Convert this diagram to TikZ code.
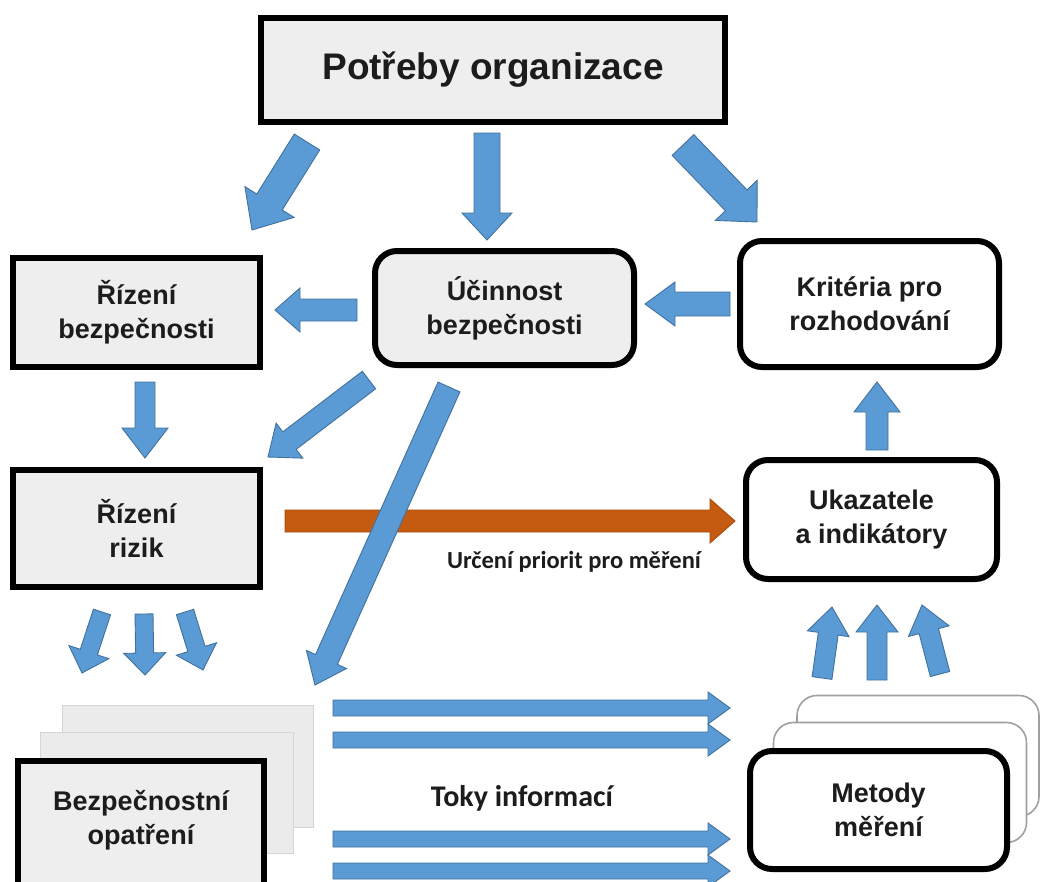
\documentclass[tikz,border=0pt]{standalone}
\usepackage{fontspec}
\setmainfont{Liberation Sans}
\newfontfamily\labelfont{Carlito}
\usetikzlibrary{calc}

\definecolor{arrowblue}{HTML}{5B9BD5}
\definecolor{arrowedge}{HTML}{41719C}
\definecolor{prioorange}{HTML}{C55A11}
\definecolor{prioedge}{HTML}{A84A0C}
\definecolor{paper}{HTML}{EEEEEE}
\definecolor{sheetgrey}{HTML}{EBEBEB}
\definecolor{cardline}{HTML}{A0A0A0}
\definecolor{ink}{HTML}{1C1C1C}

\newcommand\boxfont{\bfseries\fontsize{27}{34}\selectfont}
\newcommand\titlefont{\bfseries\fontsize{37}{42}\selectfont}

% block arrow: [style]{tail}{tip}{shaft half width}{head half width}{head length}
\newcommand\blockarrow[6][]{%
  \coordinate (ba-h) at ($(#3)!#6pt!(#2)$);
  \filldraw[blockarrow,#1]
    ($(#2)!#4pt!90:(#3)$) -- ($(ba-h)!#4pt!90:(#3)$) -- ($(ba-h)!#5pt!90:(#3)$) -- (#3)
    -- ($(ba-h)!#5pt!-90:(#3)$) -- ($(ba-h)!#4pt!-90:(#3)$) -- ($(#2)!#4pt!-90:(#3)$) -- cycle;
}

\tikzset{
  squarebox/.style={draw=black, line width=6pt, fill=paper, inner sep=0pt,
    align=center, font=\boxfont, text=ink},
  roundbox/.style={squarebox, rounded corners=22pt},
  whitebox/.style={roundbox, fill=white},
  sheet/.style={fill=sheetgrey, draw=sheetgrey!80!gray, line width=0.6pt, inner sep=0pt},
  card/.style={fill=white, draw=cardline, line width=1.6pt, rounded corners=20pt, inner sep=0pt},
  plaintext/.style={inner sep=0pt, align=center, font=\boxfont, text=ink},
  blockarrow/.style={fill=arrowblue, draw=arrowedge, line width=0.9pt, line join=miter},
  orangearrow/.style={fill=prioorange, draw=prioedge},
  caption/.style={inner sep=0pt, text=ink, font=\labelfont\bfseries},
}

\begin{document}
\begin{tikzpicture}[x=1pt, y=-1pt]
\useasboundingbox (0,0) rectangle (1041,881);
\clip (0,0) rectangle (1041,881);
\fill[white] (0,0) rectangle (1041,881);

% stacked sheets behind the measures box
\node[sheet, minimum width=251pt, minimum height=122pt] (sheet-back) at (187.5,766) {};
\node[sheet, minimum width=253pt, minimum height=121pt] (sheet-mid) at (166.5,792.5) {};

% stacked cards behind the methods box
\node[card, minimum width=242pt, minimum height=121pt] (card-back) at (918,756) {};
\node[card, minimum width=253pt, minimum height=120pt] (card-mid) at (900,782.5) {};

% boxes
\node[squarebox, minimum width=464pt, minimum height=104pt, font=\titlefont] (needs) at (493,70) {Potřeby organizace};
\node[squarebox, minimum width=247pt, minimum height=109pt] (safety) at (136.5,312.5) {Řízení\\bezpečnosti};
\node[squarebox, minimum width=247pt, minimum height=117pt] (risk) at (136.5,528.5) {Řízení\\rizik};
\node[squarebox, minimum width=246pt, minimum height=131pt] (measures) at (141,826.5) {};
\node[plaintext] (measures-text) at (141,820) {Bezpečnostní\\opatření};
\node[roundbox, minimum width=259pt, minimum height=114pt] (efficacy) at (504.5,308) {Účinnost\\bezpečnosti};
\node[whitebox, minimum width=259pt, minimum height=126pt] (criteria) at (869.5,304) {Kritéria pro\\rozhodování};
\node[whitebox, minimum width=251pt, minimum height=119pt] (indicators) at (871.5,519.5) {Ukazatele\\a indikátory};
\node[whitebox, minimum width=257pt, minimum height=118pt] (methods) at (878.5,810) {Metody\\měření};

% connector end points
\coordinate (needs-safety-s) at (307,142);   \coordinate (needs-safety-e) at (252,230);
\coordinate (needs-efficacy-s) at (487,133); \coordinate (needs-efficacy-e) at (487,240);
\coordinate (needs-criteria-s) at (683,145); \coordinate (needs-criteria-e) at (757,222);
\coordinate (efficacy-safety-s) at (357,310); \coordinate (efficacy-safety-e) at (275,310);
\coordinate (criteria-efficacy-s) at (730,304); \coordinate (criteria-efficacy-e) at (645,304);
\coordinate (safety-risk-s) at (145,382); \coordinate (safety-risk-e) at (145,458);
\coordinate (efficacy-risk-s) at (369,380); \coordinate (efficacy-risk-e) at (268,457);
\coordinate (efficacy-measures-s) at (449,387); \coordinate (efficacy-measures-e) at (315,685);
\coordinate (risk-indicators-s) at (285,521); \coordinate (risk-indicators-e) at (735,521);
\coordinate (indicators-criteria-s) at (877,450); \coordinate (indicators-criteria-e) at (877,382);
\coordinate (methods-ind-a-s) at (822,678); \coordinate (methods-ind-a-e) at (832,607);
\coordinate (methods-ind-b-s) at (877,680); \coordinate (methods-ind-b-e) at (877,605);
\coordinate (methods-ind-c-s) at (940,674); \coordinate (methods-ind-c-e) at (922,605);
\coordinate (risk-meas-a-s) at (102,612); \coordinate (risk-meas-a-e) at (82,673);
\coordinate (risk-meas-b-s) at (144,614); \coordinate (risk-meas-b-e) at (145,675);
\coordinate (risk-meas-c-s) at (185,612); \coordinate (risk-meas-c-e) at (203,670);
\coordinate (flow-a-s) at (333,708); \coordinate (flow-a-e) at (730,708);
\coordinate (flow-b-s) at (333,740); \coordinate (flow-b-e) at (730,740);
\coordinate (flow-c-s) at (333,839); \coordinate (flow-c-e) at (730,839);
\coordinate (flow-d-s) at (333,871); \coordinate (flow-d-e) at (730,871);

% priority arrow (below the crossing blue arrow)
\blockarrow[orangearrow]{risk-indicators-s}{risk-indicators-e}{11}{22}{25}

% blue connectors
\blockarrow{needs-safety-s}{needs-safety-e}{15}{29}{33}
\blockarrow{needs-efficacy-s}{needs-efficacy-e}{13}{25}{27}
\blockarrow{needs-criteria-s}{needs-criteria-e}{15}{29}{30}
\blockarrow{efficacy-safety-s}{efficacy-safety-e}{11}{22}{25}
\blockarrow{criteria-efficacy-s}{criteria-efficacy-e}{12}{22}{30}
\blockarrow{safety-risk-s}{safety-risk-e}{10}{23}{30}
\blockarrow{efficacy-risk-s}{efficacy-risk-e}{11}{22}{27}
\blockarrow{efficacy-measures-s}{efficacy-measures-e}{12}{22}{28}
\blockarrow{indicators-criteria-s}{indicators-criteria-e}{11}{23}{30}
\blockarrow{methods-ind-a-s}{methods-ind-a-e}{10}{21}{27}
\blockarrow{methods-ind-b-s}{methods-ind-b-e}{10}{21}{27}
\blockarrow{methods-ind-c-s}{methods-ind-c-e}{10}{21}{27}
\blockarrow{risk-meas-a-s}{risk-meas-a-e}{9}{21}{22}
\blockarrow{risk-meas-b-s}{risk-meas-b-e}{9}{21}{22}
\blockarrow{risk-meas-c-s}{risk-meas-c-e}{9}{21}{22}
\blockarrow{flow-a-s}{flow-a-e}{8}{16}{22}
\blockarrow{flow-b-s}{flow-b-e}{8}{16}{22}
\blockarrow{flow-c-s}{flow-c-e}{8}{16}{22}
\blockarrow{flow-d-s}{flow-d-e}{8}{16}{22}

% captions
\node[caption, font=\labelfont\bfseries\fontsize{24.5}{28}\selectfont] (priority-label) at (574,562) {Určení priorit pro měření};
\node[caption, font=\labelfont\bfseries\fontsize{30}{34}\selectfont] (flow-label) at (522,798) {Toky informací};
\end{tikzpicture}
\end{document}
